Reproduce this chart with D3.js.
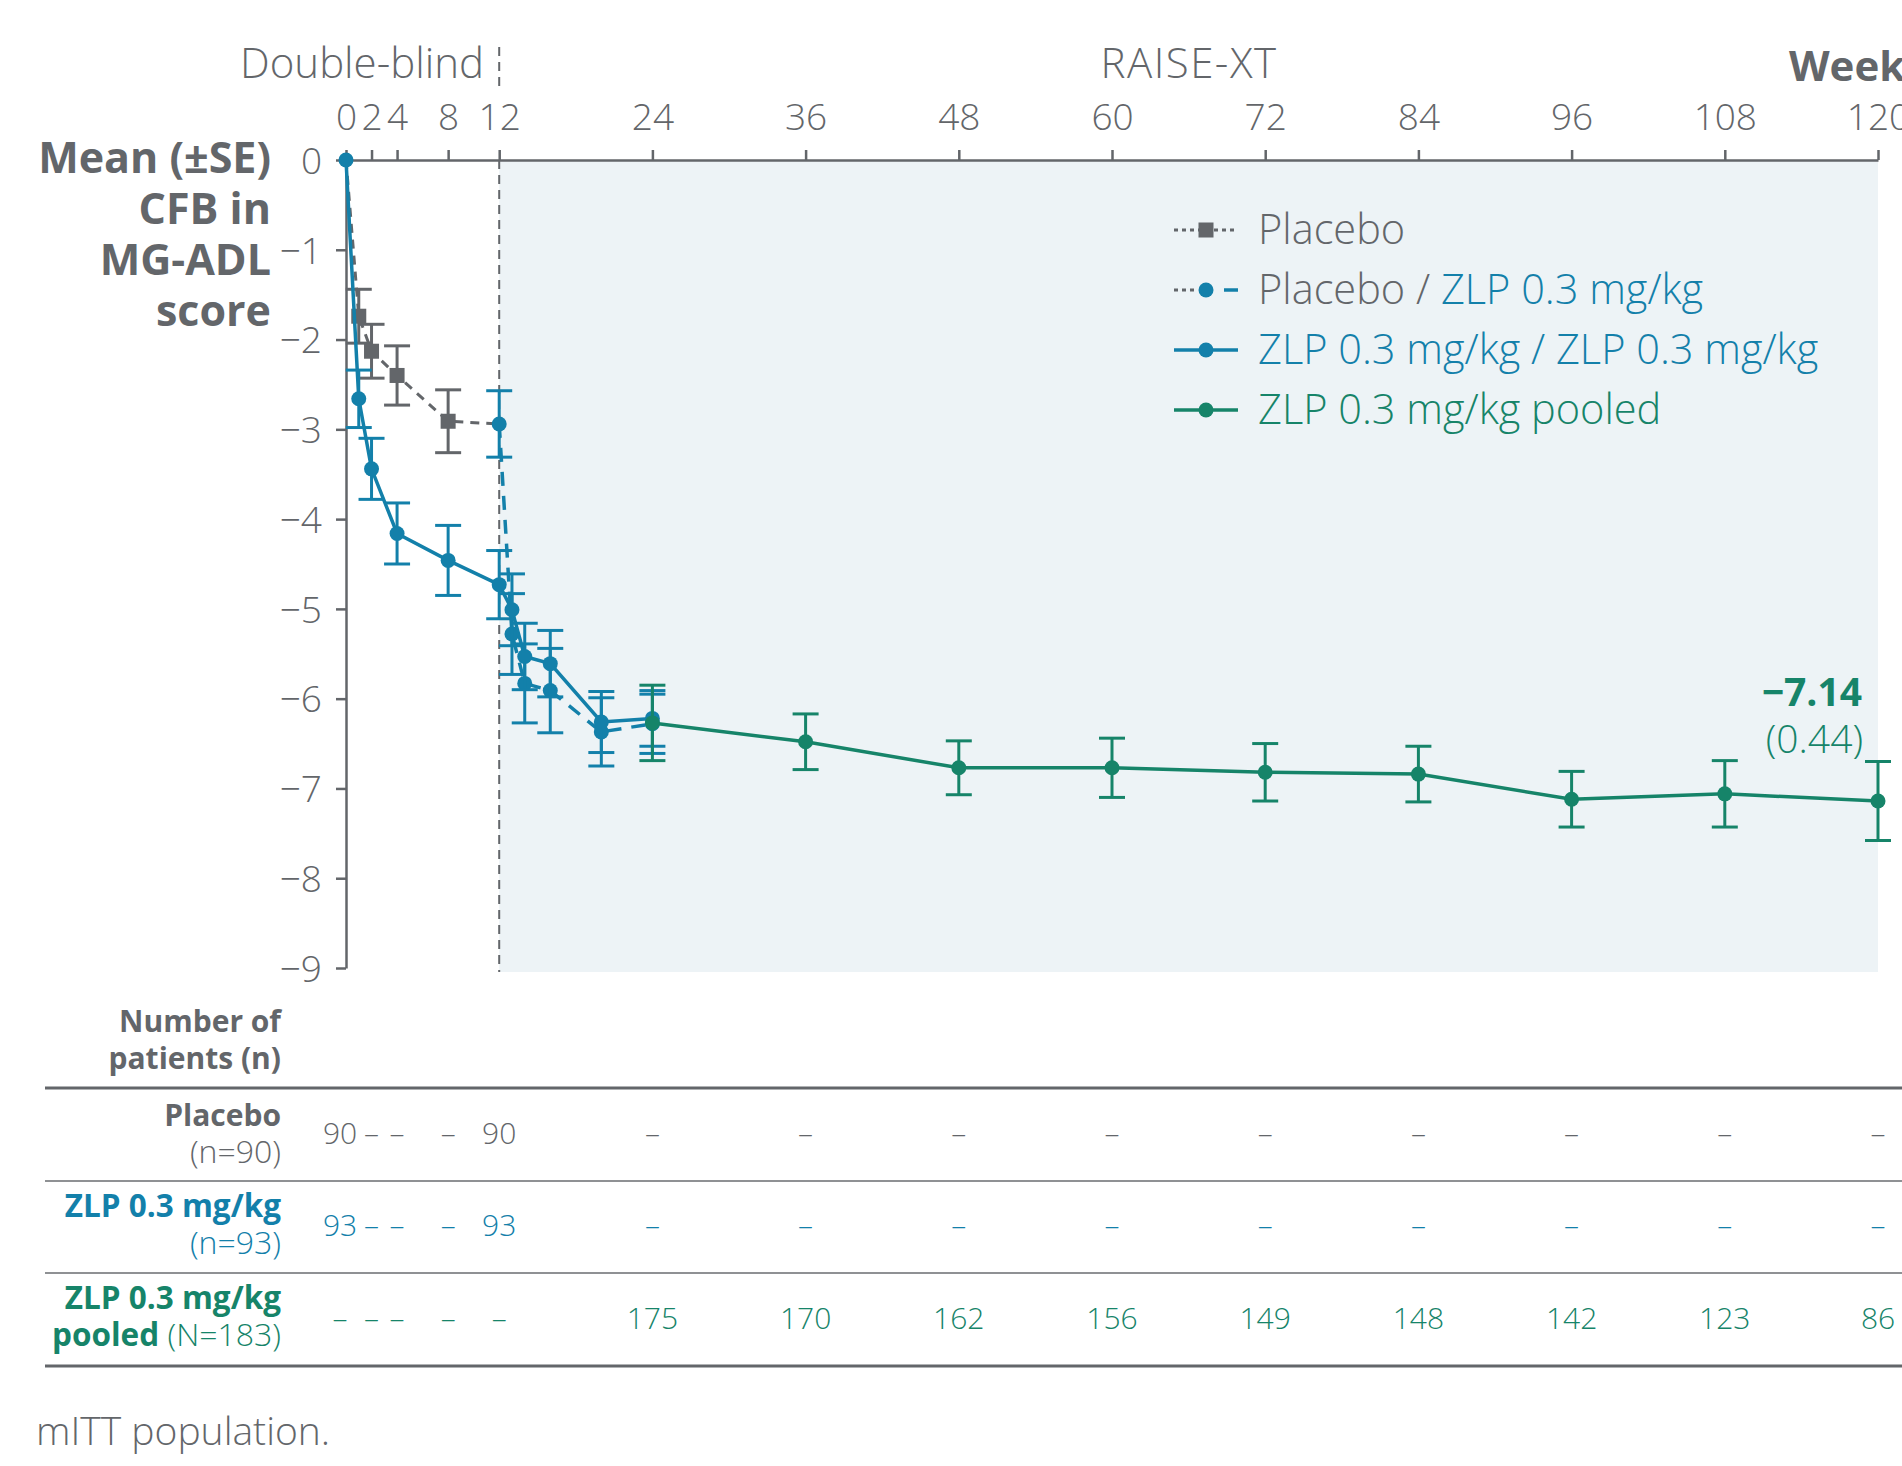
<!DOCTYPE html>
<html>
<head>
<meta charset="utf-8">
<script src="https://cdn.jsdelivr.net/npm/d3@7"></script>
<style>
  body { margin: 0; background: #fff; }
  svg { display: block; font-family: "Open Sans", Lato, sans-serif; }
</style>
</head>
<body>
<script>
// data
var tickWeeks = [0, 2, 4, 8, 12, 24, 36, 48, 60, 72, 84, 96, 108, 120];
var yTicks = [0, -1, -2, -3, -4, -5, -6, -7, -8, -9];

var placeboWeeks = [0, 1, 2, 4, 8];
var placeboMean = [0, -1.74, -2.13, -2.40, -2.91];
var placeboSE = [0, 0.30, 0.30, 0.33, 0.35];

var switchWeeks = [12, 13, 14, 16, 20, 24];
var switchMean = [-2.94, -5.28, -5.83, -5.91, -6.37, -6.28];
var switchSE = [0.37, 0.45, 0.44, 0.47, 0.38, 0.33];

var zlpWeeks = [0, 1, 2, 4, 8, 12, 13, 14, 16, 20, 24];
var zlpMean = [0, -2.66, -3.44, -4.16, -4.46, -4.73, -5.01, -5.53, -5.61, -6.26, -6.22];
var zlpSE = [0, 0.32, 0.34, 0.34, 0.39, 0.38, 0.40, 0.37, 0.37, 0.34, 0.31];

var pooledWeeks = [24, 36, 48, 60, 72, 84, 96, 108, 120];
var pooledMean = [-6.27, -6.48, -6.77, -6.77, -6.82, -6.84, -7.12, -7.06, -7.14];
var pooledSE = [0.42, 0.31, 0.30, 0.33, 0.32, 0.31, 0.31, 0.37, 0.44];

var tableWeeks = [0, 2, 4, 8, 12, 24, 36, 48, 60, 72, 84, 96, 108, 120];
var nPlacebo = ["90", "–", "–", "–", "90", "–", "–", "–", "–", "–", "–", "–", "–", "–"];
var nZlp = ["93", "–", "–", "–", "93", "–", "–", "–", "–", "–", "–", "–", "–", "–"];
var nPooled = ["–", "–", "–", "–", "–", "175", "170", "162", "156", "149", "148", "142", "123", "86"];

var gray = "#63666a";
var blue = "#1380aa";
var green = "#168469";
var shade = "#edf3f6";
var lightW = 300;

var svg = d3.select("body").append("svg")
	.attr("width", 1902)
	.attr("height", 1466);

var x = d3.scaleLinear().domain([0, 120]).range([346, 1878]);
var y = d3.scaleLinear().domain([0, -9]).range([160, 968]);

// shaded RAISE-XT area
svg.append("rect")
	.attr("x", x(12)).attr("y", y(0))
	.attr("width", x(120) - x(12))
	.attr("height", 972 - y(0))
	.attr("fill", shade);

// week 12 divider
[[47, 92], [y(0), 972]].forEach(function(seg) {
	svg.append("line")
		.attr("x1", x(12)).attr("x2", x(12))
		.attr("y1", seg[0]).attr("y2", seg[1])
		.attr("stroke", gray).attr("stroke-width", 2)
		.attr("stroke-dasharray", "9,6");
});

// axes
var xAxis = svg.append("g")
	.attr("transform", "translate(0," + y(0) + ")")
	.call(d3.axisTop(x).tickValues(tickWeeks).tickSize(10).tickSizeOuter(0).tickPadding(20));

var yAxis = svg.append("g")
	.attr("transform", "translate(" + x(0) + ",0)")
	.call(d3.axisLeft(y).tickValues(yTicks).tickSize(10).tickSizeOuter(0).tickPadding(14)
		.tickFormat(function(d) { return d === 0 ? "0" : "−" + Math.abs(d); }));

[xAxis, yAxis].forEach(function(a) {
	a.selectAll("path, line").attr("stroke", gray).attr("stroke-width", 2.5);
	a.selectAll("text")
		.attr("fill", gray)
		.style("font-size", "37px")
		.style("font-weight", lightW)
		.style("font-family", "'Open Sans', sans-serif");
});
yAxis.selectAll("text").attr("dy", "0.36em");

// top labels
svg.append("text").attr("x", 484).attr("y", 78).attr("text-anchor", "end")
	.attr("fill", gray).style("font-size", "42px").style("font-weight", lightW)
	.text("Double-blind");
svg.append("text").attr("x", 1189).attr("y", 78).attr("text-anchor", "middle")
	.attr("fill", gray).style("font-size", "42px").style("font-weight", lightW)
	.style("letter-spacing", "1.5px")
	.text("RAISE-XT");
svg.append("text").attr("x", 1789).attr("y", 81)
	.attr("fill", gray).style("font-size", "42px").style("font-weight", 700)
	.text("Weeks");

// y title
var yTitle = ["Mean (±SE)", "CFB in", "MG-ADL", "score"];
svg.append("g").selectAll("text")
	.data(yTitle)
	.enter().append("text")
	.attr("x", 271)
	.attr("y", function(d, i) { return 173 + i * 51; })
	.attr("text-anchor", "end")
	.attr("fill", gray)
	.style("font-size", "43px")
	.style("font-weight", 700)
	.text(function(d) { return d; });

// helpers
function pts(weeks, mean, se) {
	return weeks.map(function(w, i) { return {w: w, m: mean[i], se: se[i]}; });
}
var line = d3.line()
	.x(function(d) { return x(d.w); })
	.y(function(d) { return y(d.m); });

function errorBars(g, data, color) {
	var eb = g.append("g").selectAll("g")
		.data(data.filter(function(d) { return d.se > 0; }))
		.enter().append("g")
		.attr("stroke", color).attr("stroke-width", 3);
	eb.append("line")
		.attr("x1", function(d) { return x(d.w); })
		.attr("x2", function(d) { return x(d.w); })
		.attr("y1", function(d) { return y(d.m + d.se); })
		.attr("y2", function(d) { return y(d.m - d.se); });
	eb.append("line")
		.attr("x1", function(d) { return x(d.w) - 13; })
		.attr("x2", function(d) { return x(d.w) + 13; })
		.attr("y1", function(d) { return y(d.m + d.se); })
		.attr("y2", function(d) { return y(d.m + d.se); });
	eb.append("line")
		.attr("x1", function(d) { return x(d.w) - 13; })
		.attr("x2", function(d) { return x(d.w) + 13; })
		.attr("y1", function(d) { return y(d.m - d.se); })
		.attr("y2", function(d) { return y(d.m - d.se); });
}

function dots(g, data, color) {
	g.append("g").selectAll("circle")
		.data(data)
		.enter().append("circle")
		.attr("cx", function(d) { return x(d.w); })
		.attr("cy", function(d) { return y(d.m); })
		.attr("r", 7.5)
		.attr("fill", color);
}

var placebo = pts(placeboWeeks, placeboMean, placeboSE);
var switched = pts(switchWeeks, switchMean, switchSE);
var zlp = pts(zlpWeeks, zlpMean, zlpSE);
var pooled = pts(pooledWeeks, pooledMean, pooledSE);

// placebo
var gP = svg.append("g");
gP.append("path")
	.attr("d", line(placebo.concat([switched[0]])))
	.attr("fill", "none").attr("stroke", gray).attr("stroke-width", 3)
	.attr("stroke-dasharray", "9,7");
errorBars(gP, placebo, gray);
gP.append("g").selectAll("rect")
	.data(placebo.slice(1))
	.enter().append("rect")
	.attr("x", function(d) { return x(d.w) - 7.5; })
	.attr("y", function(d) { return y(d.m) - 7.5; })
	.attr("width", 15).attr("height", 15)
	.attr("fill", gray);

// placebo / ZLP
var gS = svg.append("g");
gS.append("path")
	.attr("d", line(switched))
	.attr("fill", "none").attr("stroke", blue).attr("stroke-width", 3.5)
	.attr("stroke-dasharray", "14,10");
errorBars(gS, switched, blue);
dots(gS, switched, blue);

// ZLP / ZLP
var gZ = svg.append("g");
gZ.append("path")
	.attr("d", line(zlp))
	.attr("fill", "none").attr("stroke", blue).attr("stroke-width", 3.5);
errorBars(gZ, zlp, blue);
dots(gZ, zlp, blue);

// pooled
var gG = svg.append("g");
gG.append("path")
	.attr("d", line(pooled))
	.attr("fill", "none").attr("stroke", green).attr("stroke-width", 3.5);
errorBars(gG, pooled, green);
dots(gG, pooled, green);

var last = pooled[pooled.length - 1];
svg.append("text").attr("x", 1862).attr("y", 706).attr("text-anchor", "end")
	.attr("fill", green).style("font-size", "39px").style("font-weight", 700)
	.text("−" + Math.abs(last.m).toFixed(2));
svg.append("text").attr("x", 1863).attr("y", 753).attr("text-anchor", "end")
	.attr("fill", green).style("font-size", "39px").style("font-weight", lightW)
	.text("(" + last.se.toFixed(2) + ")");

// legend
var legend = svg.append("g").attr("transform", "translate(1174,0)");
var legY = [230, 290, 350, 410];
legend.append("line").attr("x1", 0).attr("x2", 64).attr("y1", legY[0]).attr("y2", legY[0])
	.attr("stroke", gray).attr("stroke-width", 3).attr("stroke-dasharray", "4,4");
legend.append("rect").attr("x", 24.5).attr("y", legY[0] - 7.5).attr("width", 15).attr("height", 15).attr("fill", gray);
legend.append("line").attr("x1", 0).attr("x2", 22).attr("y1", legY[1]).attr("y2", legY[1])
	.attr("stroke", gray).attr("stroke-width", 3).attr("stroke-dasharray", "4,4");
legend.append("line").attr("x1", 50).attr("x2", 64).attr("y1", legY[1]).attr("y2", legY[1])
	.attr("stroke", blue).attr("stroke-width", 3.5);
legend.append("circle").attr("cx", 32).attr("cy", legY[1]).attr("r", 7.5).attr("fill", blue);
[[legY[2], blue], [legY[3], green]].forEach(function(e) {
	legend.append("line").attr("x1", 0).attr("x2", 64).attr("y1", e[0]).attr("y2", e[0])
		.attr("stroke", e[1]).attr("stroke-width", 3.5);
	legend.append("circle").attr("cx", 32).attr("cy", e[0]).attr("r", 7.5).attr("fill", e[1]);
});
var legText = [
	[["Placebo", gray]],
	[["Placebo / ", gray], ["ZLP 0.3 mg/kg", blue]],
	[["ZLP 0.3 mg/kg / ZLP 0.3 mg/kg", blue]],
	[["ZLP 0.3 mg/kg pooled", green]]
];
legText.forEach(function(parts, i) {
	var t = legend.append("text").attr("x", 84).attr("y", legY[i] + 14)
		.style("font-size", "41.5px").style("font-weight", lightW);
	parts.forEach(function(p) {
		t.append("tspan").attr("fill", p[1]).text(p[0]);
	});
});

// patient numbers table
var tbl = svg.append("g");
function label(lines, color, yBase, size) {
	lines.forEach(function(ln, i) {
		var t = tbl.append("text")
			.attr("x", 281).attr("y", yBase + i * 37)
			.attr("text-anchor", "end")
			.attr("fill", color);
		ln.forEach(function(p) {
			t.append("tspan").style("font-weight", p[1])
				.style("font-size", p[1] === 700 ? size + "px" : "32px").text(p[0]);
		});
	});
}
label([[["Number of", 700]], [["patients (n)", 700]]], gray, 1032, 30);
label([[["Placebo", 700]], [["(n=90)", lightW]]], gray, 1126, 30);
label([[["ZLP 0.3 mg/kg", 700]], [["(n=93)", lightW]]], blue, 1217, 31.5);
label([[["ZLP 0.3 mg/kg", 700]], [["pooled", 700], [" (N=183)", lightW]]], green, 1309, 31.5);

[[1088, 3, gray], [1181, 2, "#8f9194"], [1273, 2, "#8f9194"], [1366, 3, gray]].forEach(function(r) {
	tbl.append("line").attr("x1", 45).attr("x2", 1902).attr("y1", r[0]).attr("y2", r[0])
		.attr("stroke", r[2]).attr("stroke-width", r[1]);
});

[[nPlacebo, gray, 1144], [nZlp, blue, 1236], [nPooled, green, 1329]].forEach(function(row) {
	tbl.append("g").selectAll("text")
		.data(row[0])
		.enter().append("text")
		.attr("x", function(d, i) { return x(tableWeeks[i]) + (i === 0 ? -6 : 0); })
		.attr("y", row[2])
		.attr("text-anchor", "middle")
		.attr("fill", row[1])
		.style("font-size", "30px")
		.style("font-weight", lightW)
		.text(function(d) { return d; });
});

svg.append("text").attr("x", 36).attr("y", 1445)
	.attr("fill", gray).style("font-size", "39px").style("font-weight", lightW)
	.text("mITT population.");
</script>
</body>
</html>
